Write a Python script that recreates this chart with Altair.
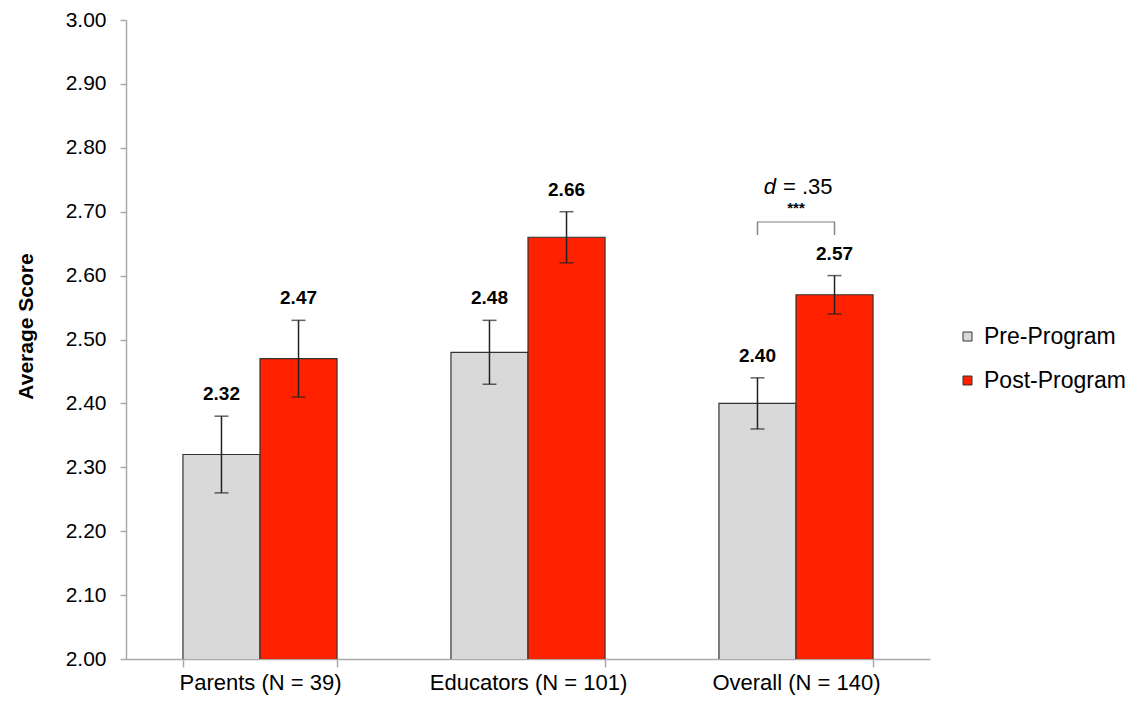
import altair as alt
import pandas as pd

categories = ["Parents (N = 39)", "Educators (N = 101)", "Overall (N = 140)"]
groups = ["Pre-Program", "Post-Program"]
pre_means = [2.32, 2.48, 2.40]
post_means = [2.47, 2.66, 2.57]
pre_low = [2.26, 2.43, 2.36]
pre_high = [2.38, 2.53, 2.44]
post_low = [2.41, 2.62, 2.54]
post_high = [2.53, 2.70, 2.60]
value_labels_pre = ["2.32", "2.48", "2.40"]
value_labels_post = ["2.47", "2.66", "2.57"]

rows = []
for i, c in enumerate(categories):
    rows.append(dict(cat=c, grp="Pre-Program", mean=pre_means[i], lo=pre_low[i], hi=pre_high[i], lab=value_labels_pre[i]))
    rows.append(dict(cat=c, grp="Post-Program", mean=post_means[i], lo=post_low[i], hi=post_high[i], lab=value_labels_post[i]))
df = pd.DataFrame(rows)

FONT = "Liberation Sans"

x = alt.X("cat:N", sort=categories, title=None,
          scale=alt.Scale(paddingInner=0.425, paddingOuter=0.2125),
          axis=alt.Axis(labelAngle=0, tickBand="extent", tickSize=8, labelPadding=5,
                        labelFontSize=22, labelLimit=400))
xo = alt.XOffset("grp:N", sort=groups, scale=alt.Scale(paddingInner=0, paddingOuter=0))
y = alt.Y("mean:Q", title="Average Score",
          scale=alt.Scale(domain=[2.0, 3.0], nice=False, zero=False),
          axis=alt.Axis(values=[round(2.0 + 0.1 * k, 2) for k in range(11)], format=".2f",
                        tickSize=6, labelPadding=14, titlePadding=29, titleY=306))

color = alt.Color("grp:N", sort=groups,
                  scale=alt.Scale(domain=groups, range=["#d9d9d9", "#ff2200"]),
                  legend=alt.Legend(title=None, orient="none", legendX=830, legendY=305,
                                    symbolType="square", symbolSize=81,
                                    symbolStrokeColor="#333333", symbolStrokeWidth=1,
                                    labelFontSize=23, labelFont=FONT, labelColor="black",
                                    labelOffset=5, rowPadding=20, padding=0, labelLimit=300))

base = alt.Chart(df)
xc = alt.X("cat:N", sort=categories)
xg = alt.XOffset("grp:N", sort=groups)

bars = base.mark_bar(stroke="#333333", strokeWidth=1.2, clip=True).encode(
    x=x, xOffset=xo, y=y, color=color)

err = base.mark_rule(color="#222222", strokeWidth=1.5).encode(
    x=xc, xOffset=xg, y=alt.Y("lo:Q"), y2="hi:Q")

cap_lo = base.mark_tick(color="#222222", thickness=1.5, size=14).encode(
    x=xc, xOffset=xg, y=alt.Y("lo:Q"))
cap_hi = base.mark_tick(color="#222222", thickness=1.5, size=14).encode(
    x=xc, xOffset=xg, y=alt.Y("hi:Q"))

labels = base.mark_text(fontSize=19, fontWeight="bold", font=FONT, color="black",
                        baseline="middle", dy=-22).encode(
    x=xc, xOffset=xg, y=alt.Y("hi:Q"), text="lab:N")

# significance annotation for Overall
ann_cat = ["Overall (N = 140)"]
bracket_top = [2.684]
bracket_bottom = [2.6635]
stars_y = [2.706]
d_y = [2.738]

leg_df = pd.DataFrame({"cat": ann_cat * 2, "grp": groups,
                       "y1": bracket_bottom * 2, "y2": bracket_top * 2})
legs = alt.Chart(leg_df).mark_rule(color="#888888", strokeWidth=1.5).encode(
    x=xc, xOffset=xg, y=alt.Y("y1:Q"), y2="y2:Q")

ann_df = pd.DataFrame({"cat": ann_cat, "yb": bracket_top, "ys": stars_y, "yd": d_y,
                       "stars": ["***"], "d": ["d"], "rest": ["= .35"]})
ann = alt.Chart(ann_df)
hbar = ann.mark_tick(color="#888888", thickness=1.5, size=78).encode(
    x=xc, y=alt.Y("yb:Q"))
stars = ann.mark_text(fontSize=15, fontWeight="bold", font=FONT, color="black",
                      baseline="middle").encode(
    x=xc, y=alt.Y("ys:Q"), text="stars:N")
dtxt = ann.mark_text(fontSize=22, fontStyle="italic", font=FONT, color="black",
                     baseline="middle", align="right", dx=-20).encode(
    x=xc, y=alt.Y("yd:Q"), text="d:N")
rest = ann.mark_text(fontSize=22, font=FONT, color="black",
                     baseline="middle", align="left", dx=-13).encode(
    x=xc, y=alt.Y("yd:Q"), text="rest:N")

chart = alt.layer(bars, err, cap_lo, cap_hi, labels, legs, hbar, stars, dtxt, rest).properties(
    width=804, height=639,
    autosize=alt.AutoSizeParams(type="none"),
    padding={"left": 118, "top": 12, "right": 200, "bottom": 39},
).configure(font=FONT, background="white").configure_view(stroke=None).configure_axis(
    labelFontSize=21, labelColor="black", labelFont=FONT, grid=False,
    tickColor="#aaaaaa", domainColor="#aaaaaa", domainWidth=1.5, tickWidth=1.5,
    titleFontSize=21, titleFont=FONT, titleFontWeight="bold", titleColor="black")

chart.save("out.html", embed_options={"renderer": "svg", "actions": False})
